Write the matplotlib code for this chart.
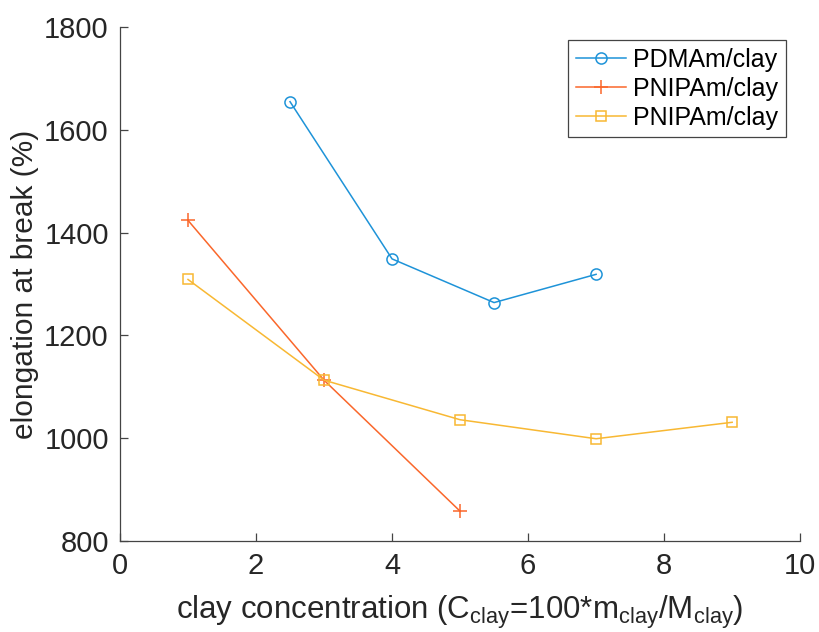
import matplotlib.pyplot as plt

# data
pdmam_x = [2.5, 4, 5.5, 7]
pdmam_y = [1655, 1349, 1264, 1319]
pnipam_x = [1, 3, 5]
pnipam_y = [1424, 1113, 858]
pnipam2_x = [1, 3, 5, 7, 9]
pnipam2_y = [1309, 1113, 1036, 999, 1031]

labels = ["PDMAm/clay", "PNIPAm/clay", "PNIPAm/clay"]
x_ticks = [0, 2, 4, 6, 8, 10]
y_ticks = [800, 1000, 1200, 1400, 1600, 1800]

plt.rcParams['font.family'] = ['Liberation Sans', 'DejaVu Sans']

fig = plt.figure(figsize=(8.19, 6.32), dpi=100)
ax = fig.add_axes([0.1465, 0.144, 0.8305, 0.813])

ax.plot(pdmam_x, pdmam_y, color="#1e93d8", lw=1.1, marker="o", ms=8,
        mfc="none", mec="#1e93d8", mew=1.1, label=labels[0])
ax.plot(pnipam_x, pnipam_y, color="#fa672b", lw=1.1, marker="+", ms=10,
        mew=1.1, label=labels[1])
ax.plot(pnipam2_x, pnipam2_y, color="#f8b833", lw=1.1, marker="s", ms=7,
        mfc="none", mec="#f8b833", mew=1.1, label=labels[2])

ax.set_xlim(0, 10)
ax.set_ylim(800, 1800)
ax.set_xticks(x_ticks)
ax.set_yticks(y_ticks)

for s in ["top", "right"]:
    ax.spines[s].set_visible(False)
for s in ["left", "bottom"]:
    ax.spines[s].set_color("#444444")
    ax.spines[s].set_linewidth(0.9)

ax.tick_params(direction="in", length=6, width=0.9, color="#444444",
               labelsize=21, labelcolor="#262626", pad=8)

ax.set_xlabel(r"clay concentration (C$_{\mathregular{clay}}$=100*m$_{\mathregular{clay}}$/M$_{\mathregular{clay}}$)",
              fontsize=22.5, color="#262626", labelpad=10)
ax.set_ylabel("elongation at break (%)", fontsize=21.5, color="#262626", labelpad=4)

leg = ax.legend(loc="upper right", bbox_to_anchor=(0.979, 0.975), fontsize=18,
                fancybox=False, framealpha=1, edgecolor="#444444",
                handlelength=2.0, handletextpad=0.3, borderpad=0.3,
                labelspacing=0.2, borderaxespad=0)
leg.get_frame().set_linewidth(0.9)

fig.savefig("out.png", dpi=100)
